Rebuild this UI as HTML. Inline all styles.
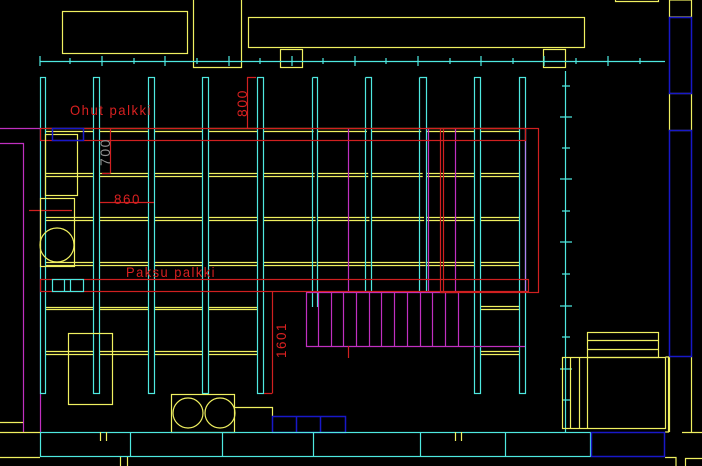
<!DOCTYPE html>
<html><head><meta charset="utf-8"><style>
html,body{margin:0;padding:0;background:#000;width:702px;height:466px;overflow:hidden}
svg{display:block}
text{font-family:"Liberation Sans",sans-serif;fill:#d82020;letter-spacing:1.6px}
</style></head><body>
<svg width="702" height="466" viewBox="0 0 702 466" xmlns="http://www.w3.org/2000/svg" fill="none" stroke-width="1.2">
<rect width="702" height="466" fill="#000" stroke="none"/>
<g stroke="#f0f060">
<rect x="62.5" y="11.5" width="125" height="42"/>
<polyline points="193.5,0 193.5,67.5 241.5,67.5 241.5,0"/>
<rect x="248.5" y="17.5" width="336" height="30"/>
<rect x="280.5" y="49.5" width="22" height="18"/>
<rect x="543.5" y="49.5" width="22" height="18"/>
<polyline points="615.5,0 615.5,1.5 658.5,1.5 658.5,0"/>
<rect x="669.5" y="0" width="22" height="17"/>
<rect x="669.5" y="93.5" width="22" height="37"/>
<line x1="669.5" y1="356" x2="669.5" y2="432"/><line x1="691.5" y1="356" x2="691.5" y2="432"/>
</g>
<g stroke="#1818c8" stroke-width="1.5">
<rect x="669.5" y="17.5" width="22" height="76"/>
<rect x="669.5" y="130.5" width="22" height="226"/>
</g>
<g stroke="#4ee8e0">
<line x1="40" y1="61.5" x2="665" y2="61.5"/>
<path d="M40,56v10M70,58v6M102,56v10M134,58v6M165,56v10M197,58v6M229,56v10M260,58v6M292,56v10M323,58v6M355,56v10M386,58v6M418,56v10M450,58v6M481,56v10M513,58v6M544,56v10M576,58v6M608,56v10M640,58v6"/>
<line x1="565.5" y1="71" x2="565.5" y2="432"/>
<path d="M562,86h8M560,117h12M562,148h8M560,179h12M562,211h8M560,242h12M562,274h8M560,306h12M562,337h8M560,369h12M562,400h8"/>
</g>
<g stroke="#c030c0">
<polyline points="0,128.5 40,128.5"/>
<polyline points="0,143.5 23.5,143.5 23.5,432"/>
<line x1="40.5" y1="128" x2="40.5" y2="432"/>
</g>
<g stroke="#f0f060">
<path d="M45,128.5H525M45,131.5H525"/>
<path d="M45,173.5H525M45,176.5H525"/>
<path d="M45,217.5H525M45,220.5H525"/>
<path d="M45,262.5H525M45,265.5H525"/>
<path d="M45,307.5H257M45,309.5H257M480,306.5H519M480,309.5H519"/>
<path d="M45,351.5H257M45,354.5H257M480,351.5H519M480,354.5H519"/>
</g>
<g stroke="#4ee8e0" fill="#000">
<rect x="40.5" y="77.5" width="5" height="316"/>
<rect x="93.5" y="77.5" width="6" height="316"/>
<rect x="148.5" y="77.5" width="6" height="316"/>
<rect x="202.5" y="77.5" width="6" height="316"/>
<rect x="257.5" y="77.5" width="6" height="316"/>
<path d="M312.5,77.5H317.5V307M312.5,77.5V307"/>
<path d="M365.5,77.5H371.5V292M365.5,77.5V292"/>
<path d="M419.5,77.5H426.5V292M419.5,77.5V292"/>
<rect x="474.5" y="77.5" width="6" height="316"/>
<rect x="519.5" y="77.5" width="6" height="316"/>
</g>
<g stroke="#c030c0">
<line x1="348.5" y1="128" x2="348.5" y2="292"/>
<line x1="428.5" y1="128" x2="428.5" y2="292"/>
<line x1="455.5" y1="128" x2="455.5" y2="292"/>
<polyline points="306.5,292 306.5,346.5 525,346.5"/>
<path d="M318.5,292V346M331.5,292V346M343.5,292V346M356.5,292V346M369.5,292V346M381.5,292V346M394.5,292V346M407.5,292V346M420.5,292V346M432.5,292V346M445.5,292V346M458.5,292V346"/>
<line x1="306" y1="292.5" x2="458" y2="292.5"/>
</g>
<line x1="525.5" y1="128" x2="525.5" y2="292" stroke="#b080f0"/>
<g stroke="#d02020">
<rect x="40.5" y="128.5" width="485" height="12"/>
<rect x="40.5" y="279.5" width="488" height="12"/>
<rect x="440.5" y="128.5" width="98" height="164"/>
<line x1="443.5" y1="128" x2="443.5" y2="292"/>
<line x1="348.5" y1="346" x2="348.5" y2="358"/>
<line x1="29" y1="210.5" x2="72" y2="210.5"/>
<path d="M247.5,77.5V128M247,77.5H256"/>
<path d="M110.5,128V173.5M102,173.5H110"/>
<path d="M100,202.5H154"/>
<path d="M272.5,292V393.5M264,393.5H272"/>
</g>
<text x="70" y="115" font-size="14" textLength="82" lengthAdjust="spacingAndGlyphs">Ohut palkki</text>
<text x="126" y="277" font-size="14" textLength="90" lengthAdjust="spacingAndGlyphs">Paksu palkki</text>
<text x="114" y="204" font-size="14" textLength="27" lengthAdjust="spacingAndGlyphs">860</text>
<text font-size="14" transform="translate(247,117) rotate(-90)" textLength="28" lengthAdjust="spacingAndGlyphs">800</text>
<text font-size="14" transform="translate(110,166) rotate(-90)" style="fill:#909090" textLength="28" lengthAdjust="spacingAndGlyphs">700</text>
<text font-size="14" transform="translate(286,358) rotate(-90)" textLength="36" lengthAdjust="spacingAndGlyphs">1601</text>
<g stroke="#f0f060">
<rect x="45.5" y="134.5" width="32" height="61"/>
<rect x="40.5" y="198.5" width="34" height="68"/>
<circle cx="57" cy="245" r="17"/>
<rect x="68.5" y="333.5" width="44" height="71"/>
<rect x="171.5" y="394.5" width="63" height="38"/>
<circle cx="188" cy="413" r="15"/><circle cx="220" cy="413" r="15"/>
<polyline points="234,407.5 272.5,407.5 272.5,416"/>
<line x1="0" y1="422.5" x2="23" y2="422.5"/>
</g>
<g stroke="#1818c8" stroke-width="1.5">
<rect x="52.5" y="128.5" width="31" height="12"/>
<rect x="272.5" y="416.5" width="73" height="16"/>
<path d="M296.5,416V432M320.5,416V432"/>
</g>
<g stroke="#4ee8e0">
<rect x="52.5" y="279.5" width="31" height="12"/>
<path d="M64.5,280V292M70.5,280V292"/>
</g>
<g stroke="#4ee8e0">
<rect x="40.5" y="432.5" width="550" height="24"/>
<path d="M130.5,432V457M222.5,432V457M313.5,432V457M420.5,432V457M505.5,432V457"/>
</g>
<g stroke="#f0f060">
<line x1="0" y1="432.5" x2="40" y2="432.5"/>
<line x1="0" y1="457.5" x2="40" y2="457.5"/>
<path d="M100.5,432V441M106.5,432V441M120.5,457V466M127.5,457V466M455.5,432V441M461.5,432V441"/>
<path d="M665,457.5H676V466M685.5,466V458.5H702"/>
<line x1="682" y1="432.5" x2="702" y2="432.5"/>
<rect x="562.5" y="357.5" width="103" height="71"/>
<path d="M570.5,357V428M579.5,357V428M587.5,357V428"/>
<rect x="587.5" y="332.5" width="71" height="25"/>
<path d="M587,340.5H658M587,349.5H658"/>
<polyline points="665.5,357 668.5,357 668.5,432 665,432"/>
</g>
<rect x="591.5" y="432.5" width="73" height="24" stroke="#1818c8" stroke-width="1.5"/>
</svg>
</body></html>
